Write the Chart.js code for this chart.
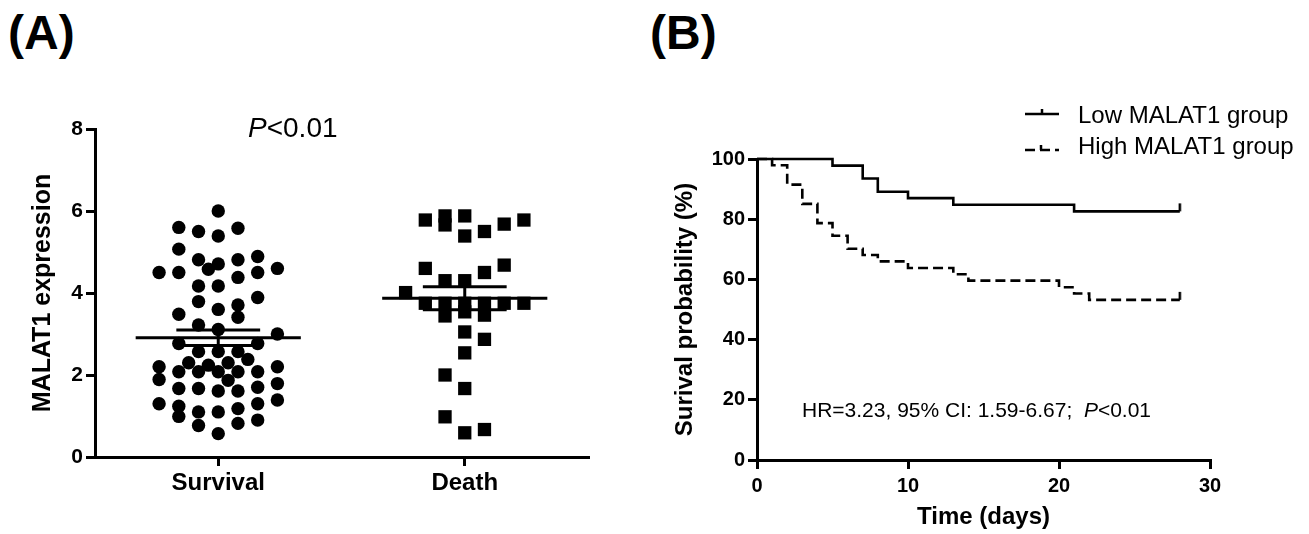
<!DOCTYPE html>
<html><head><meta charset="utf-8">
<script src="https://cdn.jsdelivr.net/npm/chart.js@4.4.1/dist/chart.umd.min.js"></script>
<style>
html,body{margin:0;padding:0;background:#fff;}
body{width:1309px;height:534px;position:relative;overflow:hidden;font-family:"Liberation Sans",Arial,sans-serif;}
.panel{position:absolute;top:0;height:534px;}
.lab{position:absolute;font-weight:bold;font-size:48px;line-height:1;color:#000;}
</style></head><body>
<div class="lab" style="left:8px;top:9px">(A)</div>
<div class="lab" style="left:650px;top:9px">(B)</div>
<div class="panel" style="left:0;width:620px"><canvas id="ca"></canvas></div>
<div class="panel" style="left:620px;width:689px"><canvas id="cb"></canvas></div>
<script>
// ---------- Panel A data ----------
const categories = ['Survival', 'Death'];
const categoryPositions = [1, 3];
const yTicksA = [0, 2, 4, 6, 8];

const survivalValues = [6.00,5.60,5.50,5.39,5.58,5.07,4.81,4.71,4.58,4.81,4.89,4.50,4.50,4.38,4.50,4.60,4.17,4.17,3.79,3.89,3.71,3.60,3.48,3.41,3.22,3.11,3.00,2.77,2.77,2.57,2.57,2.57,2.38,2.30,2.24,2.30,2.20,2.08,2.08,2.08,2.08,2.08,2.20,1.89,1.87,1.67,1.67,1.61,1.61,1.70,1.79,1.30,1.24,1.39,1.30,1.18,0.99,1.10,1.10,0.82,0.90,0.77,0.57];
const survivalJitter = [0,-0.32,-0.16,0,0.16,-0.32,-0.16,0,-0.08,0.16,0.32,-0.48,-0.32,0.16,0.32,0.48,-0.16,0,-0.16,0.32,0.16,0,-0.32,0.16,-0.16,0,0.48,-0.32,0.32,-0.16,0,0.16,0.24,-0.24,-0.08,0.08,-0.48,-0.32,-0.16,0,0.16,0.32,0.48,-0.48,0.08,-0.32,-0.16,0,0.16,0.32,0.48,-0.48,-0.32,0.48,0.32,0.16,-0.32,-0.16,0,0.16,0.32,-0.16,0];

const deathValues = [5.78,5.88,5.66,5.88,5.39,5.50,5.68,5.78,4.60,4.68,4.50,4.30,4.30,4.01,3.75,3.75,3.75,3.75,3.75,3.75,3.44,3.54,3.46,3.05,2.87,2.54,2.00,1.67,0.98,0.59,0.67];
const deathJitter = [-0.32,-0.16,-0.16,0,0,0.16,0.32,0.48,-0.32,0.32,0.16,-0.16,0,-0.48,-0.32,-0.16,0,0.16,0.32,0.48,-0.16,0,0.16,0,0.16,0,-0.16,0,-0.16,0,0.16];

const survivalMean = 2.91, survivalSem = 0.19;
const deathMean = 3.87, deathSem = 0.28;

// ---------- Panel B data ----------
const xTicksB = [0, 10, 20, 30];
const yTicksB = [0, 20, 40, 60, 80, 100];
const lowTimes = [0,5,7,8,10,13,21,28];
const lowSurvival = [100,97.8,93.5,89.1,87.0,84.8,82.6,82.6];
const highTimes = [0,1,2,3,4,5,6,7,8,10,13,14,20,21,22,28];
const highSurvival = [100,97.9,91.5,85.1,78.7,74.5,70.2,68.1,66.0,63.8,61.7,59.6,57.4,55.3,53.2,53.2];
const seriesNames = ['Low MALAT1 group', 'High MALAT1 group'];

// ---------- common ----------
Chart.defaults.font.family = '"Liberation Sans", Arial, Helvetica, sans-serif';
Chart.defaults.color = '#000';
const FONT = '"Liberation Sans", Arial, Helvetica, sans-serif';

function gridOpts() {
  return { drawOnChartArea: false, drawTicks: true, tickLength: 9, tickWidth: 3, tickColor: '#000', color: '#000', lineWidth: 3 };
}
function borderOpts() { return { display: true, color: '#000', width: 3 }; }

function lineDs(points) {
  return { type: 'scatter', showLine: true, data: points, borderColor: '#000', borderWidth: 3,
           pointRadius: 0, borderCapStyle: 'butt', clip: 10 };
}
function errorBar(center, mean, sem) {
  const mh = 0.67, ch = 0.34;
  return [
    lineDs([{x: center - mh, y: mean}, {x: center + mh, y: mean}]),
    lineDs([{x: center - ch, y: mean + sem}, {x: center + ch, y: mean + sem}]),
    lineDs([{x: center - ch, y: mean - sem}, {x: center + ch, y: mean - sem}]),
    lineDs([{x: center, y: mean - sem}, {x: center, y: mean + sem}])
  ];
}

const pTextPlugin = {
  id: 'ptext',
  afterDraw(chart) {
    const ctx = chart.ctx;
    ctx.save();
    ctx.fillStyle = '#000';
    ctx.textBaseline = 'alphabetic';
    ctx.textAlign = 'left';
    let x = 248, y = 137;
    ctx.font = 'italic 28px ' + FONT;
    ctx.fillText('P', x, y);
    x += ctx.measureText('P').width;
    ctx.font = '28px ' + FONT;
    ctx.fillText('<0.01', x, y);
    ctx.restore();
  }
};

new Chart(document.getElementById('ca'), {
  type: 'scatter',
  data: {
    datasets: [
      ...errorBar(categoryPositions[0], survivalMean, survivalSem),
      ...errorBar(categoryPositions[1], deathMean, deathSem),
      { label: categories[0], data: survivalValues.map((v, i) => ({x: categoryPositions[0] + survivalJitter[i], y: v})),
        pointStyle: 'circle', pointRadius: 6.7, backgroundColor: '#000', borderWidth: 0, clip: 10 },
      { label: categories[1], data: deathValues.map((v, i) => ({x: categoryPositions[1] + deathJitter[i], y: v})),
        pointStyle: 'rect', pointRadius: 9.4, backgroundColor: '#000', borderWidth: 0, clip: 10 }
    ]
  },
  options: {
    responsive: true, maintainAspectRatio: false, animation: false, devicePixelRatio: 1,
    layout: { padding: { left: 0, right: 32, top: 129, bottom: 0 } },
    plugins: { legend: { display: false }, tooltip: { enabled: false } },
    scales: {
      x: {
        type: 'linear', min: 0, max: 4,
        afterBuildTicks: s => { s.ticks = categoryPositions.map(v => ({value: v})); },
        ticks: { callback: v => { const i = categoryPositions.indexOf(v); return i >= 0 ? categories[i] : ''; },
                 font: { size: 24, weight: 'bold' }, padding: 3, maxRotation: 0, autoSkip: false },
        grid: gridOpts(), border: borderOpts(),
        afterFit: s => { s.height = 77; }
      },
      y: {
        min: 0, max: 8,
        afterBuildTicks: s => { s.ticks = yTicksA.map(v => ({value: v})); },
        ticks: { font: { size: 21, weight: 'bold' }, padding: 3 },
        grid: gridOpts(), border: borderOpts(),
        title: { display: true, text: 'MALAT1 expression', font: { size: 25, weight: 'bold' }, padding: { top: 28, bottom: 0 } },
        afterFit: s => { s.width = 95; }
      }
    }
  },
  plugins: [pTextPlugin]
});

// censor mark (vertical tick rising above the curve)
const censorMark = document.createElement('canvas');
censorMark.width = 4; censorMark.height = 18;
(function(){ const g = censorMark.getContext('2d'); g.fillStyle = '#000'; g.fillRect(0.75, 1, 2.5, 8); })();

const kmPlugin = {
  id: 'kmtext',
  afterDraw(chart) {
    const ctx = chart.ctx;
    ctx.save();
    ctx.strokeStyle = '#000';
    ctx.fillStyle = '#000';
    ctx.lineWidth = 2.5;
    // legend samples
    const x0 = 405, x1 = 439, yl = 114, yh = 150;
    ctx.beginPath(); ctx.moveTo(x0, yl); ctx.lineTo(x1, yl); ctx.stroke();
    ctx.beginPath(); ctx.moveTo(422, yl - 5); ctx.lineTo(422, yl); ctx.stroke();
    ctx.setLineDash([10, 5]);
    ctx.beginPath(); ctx.moveTo(x0, yh); ctx.lineTo(x1, yh); ctx.stroke();
    ctx.setLineDash([]);
    ctx.beginPath(); ctx.moveTo(421, yh - 5); ctx.lineTo(421, yh); ctx.stroke();
    ctx.font = '24px ' + FONT;
    ctx.textBaseline = 'alphabetic';
    ctx.textAlign = 'left';
    ctx.fillText(seriesNames[0], 458, 123);
    ctx.fillText(seriesNames[1], 458, 154);
    // HR annotation
    let x = 182, y = 417;
    ctx.font = '21px ' + FONT;
    const a = 'HR=3.23, 95% CI: 1.59-6.67;  ';
    ctx.fillText(a, x, y); x += ctx.measureText(a).width;
    ctx.font = 'italic 21px ' + FONT;
    ctx.fillText('P', x, y); x += ctx.measureText('P').width;
    ctx.font = '21px ' + FONT;
    ctx.fillText('<0.01', x, y);
    ctx.restore();
  }
};

function kmDs(label, times, surv, dash) {
  const last = times.length - 1;
  return {
    label, data: times.map((t, i) => ({x: t, y: surv[i]})),
    stepped: 'before', borderColor: '#000', backgroundColor: '#000', borderWidth: 2.6, borderDash: dash, fill: false,
    pointRadius: ctx => ctx.dataIndex === last ? 3 : 0, pointHoverRadius: 0,
    pointStyle: censorMark, clip: 10, borderCapStyle: 'butt'
  };
}

new Chart(document.getElementById('cb'), {
  type: 'line',
  data: { datasets: [
    kmDs(seriesNames[0], lowTimes, lowSurvival, []),
    kmDs(seriesNames[1], highTimes, highSurvival, [10, 5])
  ]},
  options: {
    responsive: true, maintainAspectRatio: false, animation: false, devicePixelRatio: 1,
    layout: { padding: { left: 0, right: 99, top: 159, bottom: 0 } },
    plugins: { legend: { display: false }, tooltip: { enabled: false } },
    scales: {
      x: {
        type: 'linear', min: 0, max: 30,
        afterBuildTicks: s => { s.ticks = xTicksB.map(v => ({value: v})); },
        ticks: { font: { size: 20, weight: 'bold' }, padding: 5, maxRotation: 0 },
        grid: gridOpts(), border: borderOpts(),
        title: { display: true, text: 'Time (days)', font: { size: 24, weight: 'bold' }, padding: { top: 0, bottom: 2 } },
        afterFit: s => { s.height = 74; }
      },
      y: {
        min: 0, max: 100,
        afterBuildTicks: s => { s.ticks = yTicksB.map(v => ({value: v})); },
        ticks: { font: { size: 20, weight: 'bold' }, padding: 3 },
        grid: gridOpts(), border: borderOpts(),
        title: { display: true, text: 'Surival probability (%)', font: { size: 24, weight: 'bold' }, padding: { top: 51, bottom: 0 } },
        afterFit: s => { s.width = 137; }
      }
    }
  },
  plugins: [kmPlugin]
});
</script>
</body></html>
